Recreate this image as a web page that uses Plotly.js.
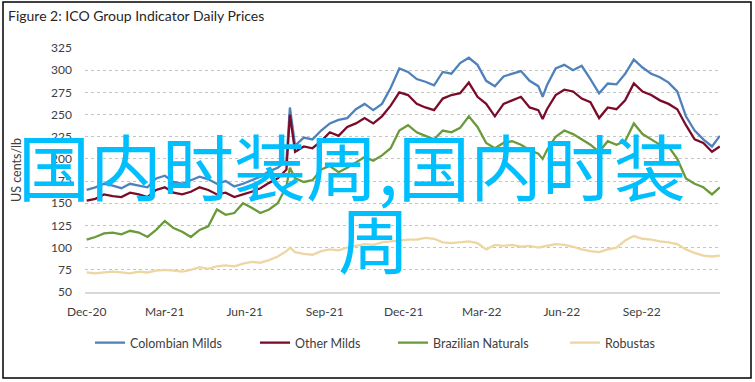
<!DOCTYPE html>
<html><head><meta charset="utf-8">
<script src="https://cdn.plot.ly/plotly-3.0.1.min.js"></script>
<style>html,body{margin:0;padding:0;background:#fff}#chart{width:755px;height:382px}</style>
</head><body><div id="chart"></div>
<script>
const dates = ["2020-12-01","2020-12-11","2020-12-21","2020-12-31","2021-01-10","2021-01-20","2021-01-30","2021-02-09","2021-02-19","2021-03-01","2021-03-11","2021-03-21","2021-03-31","2021-04-10","2021-04-20","2021-04-30","2021-05-10","2021-05-20","2021-05-30","2021-06-09","2021-06-19","2021-06-29","2021-07-09","2021-07-19","2021-07-23","2021-07-29","2021-08-08","2021-08-18","2021-08-28","2021-09-07","2021-09-17","2021-09-27","2021-10-07","2021-10-17","2021-10-27","2021-11-06","2021-11-16","2021-11-26","2021-12-06","2021-12-16","2021-12-26","2022-01-05","2022-01-15","2022-01-25","2022-02-04","2022-02-14","2022-02-24","2022-03-06","2022-03-16","2022-03-26","2022-04-05","2022-04-15","2022-04-25","2022-05-05","2022-05-10","2022-05-15","2022-05-25","2022-06-04","2022-06-14","2022-06-24","2022-07-04","2022-07-14","2022-07-24","2022-08-03","2022-08-13","2022-08-23","2022-09-02","2022-09-12","2022-09-22","2022-10-02","2022-10-12","2022-10-22","2022-11-01","2022-11-11","2022-11-21","2022-11-30"];
const colombianMilds = [165,168,172,170,167,172,170,168,178,181,174,172,176,180,177,172,175,169,172,176,180,186,190,198,258,215,224,222,232,240,244,246,256,262,255,262,280,302,298,290,287,283,298,296,308,314,306,288,282,293,296,299,288,282,270,283,302,306,300,305,290,274,285,284,296,312,303,296,292,286,276,248,232,222,214,226];
const otherMilds = [153,155,160,158,157,162,160,157,165,168,162,160,163,168,165,160,162,157,160,163,167,173,178,188,250,208,214,212,220,230,226,236,240,246,240,248,260,275,272,262,258,255,268,272,274,286,270,262,248,262,266,270,258,255,245,256,272,278,276,268,264,246,258,256,266,285,276,272,266,262,256,238,222,218,208,214];
const brazilianNaturals = [109,112,116,117,115,119,117,112,120,130,122,118,112,120,124,143,137,139,150,145,139,143,150,169,190,178,174,176,188,192,185,190,196,202,198,204,212,232,238,230,226,222,232,230,235,248,236,218,212,218,220,216,210,206,200,210,225,232,228,222,216,208,220,216,220,240,228,222,216,214,200,178,172,168,160,168];
const robustas = [72,71,72,73,72,71,73,72,74,75,74,73,75,78,76,79,80,79,82,84,83,86,90,96,100,95,93,92,96,98,97,100,102,104,103,106,107,108,109,109,111,110,106,105,106,107,105,98,103,102,103,101,102,100,101,102,104,103,101,98,96,95,98,100,108,113,110,109,107,106,104,98,94,91,90,91];
const seriesNames = ["Colombian Milds","Other Milds","Brazilian Naturals","Robustas"];
const seriesColors = ["#4f81bd","#7a0c2a","#6a9a3a","#eed6a2"];
const yTickVals = [50,75,100,125,150,175,200,225,250,275,300,325];
const chartTitle = "Figure 2: ICO Group Indicator Daily Prices";
const yTitle = "US cents/lb";
const overlayLine1 = "国内时装周,国内时装";
const overlayLine2 = "周";

const W = 755, H = 382, L = 85, R = 720, T = 48, B = 292;
const px = X => (X - L) / (R - L);
const py = Y => (B - Y) / (B - T);

const allSeries = [colombianMilds, otherMilds, brazilianNaturals, robustas];
const legendIds = ["legend","legend2","legend3","legend4"];
const legendX = [90, 255, 393, 565];

const traces = allSeries.map((s, i) => ({
  x: dates, y: s, type: "scatter", mode: "lines", name: seriesNames[i],
  line: {color: seriesColors[i], width: 2.3}, legend: legendIds[i]
}));

const legendFont = {family: "Lato, sans-serif", size: 12.5, color: "#404040"};
const layout = {
  width: W, height: H,
  margin: {l: L, r: W - R, t: T, b: H - B, pad: 0},
  paper_bgcolor: "#fff", plot_bgcolor: "#fff",
  title: {text: chartTitle, x: 8 / W, xanchor: "left", xref: "container", y: 1 - 16 / H, yanchor: "middle", yref: "container",
          font: {family: "Lato, sans-serif", size: 14, color: "#262626"}},
  xaxis: {type: "date", range: ["2020-11-29 02:00", "2022-11-30 05:00"], tick0: "2020-12-01", dtick: "M3", tickformat: "%b-%y",
          showgrid: false, showline: true, linecolor: "#d9d9d9", linewidth: 1.5, ticks: "", zeroline: false,
          tickfont: {family: "Lato, sans-serif", size: 12, color: "#404040"}, ticklabelstandoff: 8, fixedrange: true},
  yaxis: {range: [50, 325], tickvals: yTickVals, showgrid: true, gridcolor: "#c4c4c4", griddash: "dot", gridwidth: 1,
          zeroline: false, showline: false, ticks: "", tickfont: {family: "Lato, sans-serif", size: 12, color: "#404040"},
          ticklabelstandoff: 12,
          title: {text: yTitle, font: {family: "Lato, sans-serif", size: 12.5, color: "#404040"}, standoff: 26}},
  showlegend: true,
  annotations: [
    {text: overlayLine1, xref: "paper", yref: "paper", x: px(16), y: py(163), xanchor: "left", yanchor: "middle", showarrow: false,
     font: {family: "Noto Sans CJK SC", size: 72, color: "#00bfff"}},
    {text: overlayLine2, xref: "paper", yref: "paper", x: px(374), y: py(236), xanchor: "center", yanchor: "middle", showarrow: false,
     font: {family: "Noto Sans CJK SC", size: 72, color: "#00bfff"}}
  ],
  shapes: [
    {type: "rect", xref: "paper", yref: "paper", x0: px(3), x1: px(751), y0: py(378), y1: py(2), line: {color: "#000", width: 1.5}, fillcolor: "rgba(0,0,0,0)"}
  ]
};
legendIds.forEach((id, i) => {
  layout[id] = {orientation: "h", x: px(legendX[i]), xanchor: "left", y: py(343), yanchor: "middle", font: legendFont,
                bgcolor: "rgba(0,0,0,0)", borderwidth: 0, itemwidth: 30};
});

Plotly.newPlot("chart", traces, layout, {displayModeBar: false, staticPlot: true});
</script>
</body></html>
